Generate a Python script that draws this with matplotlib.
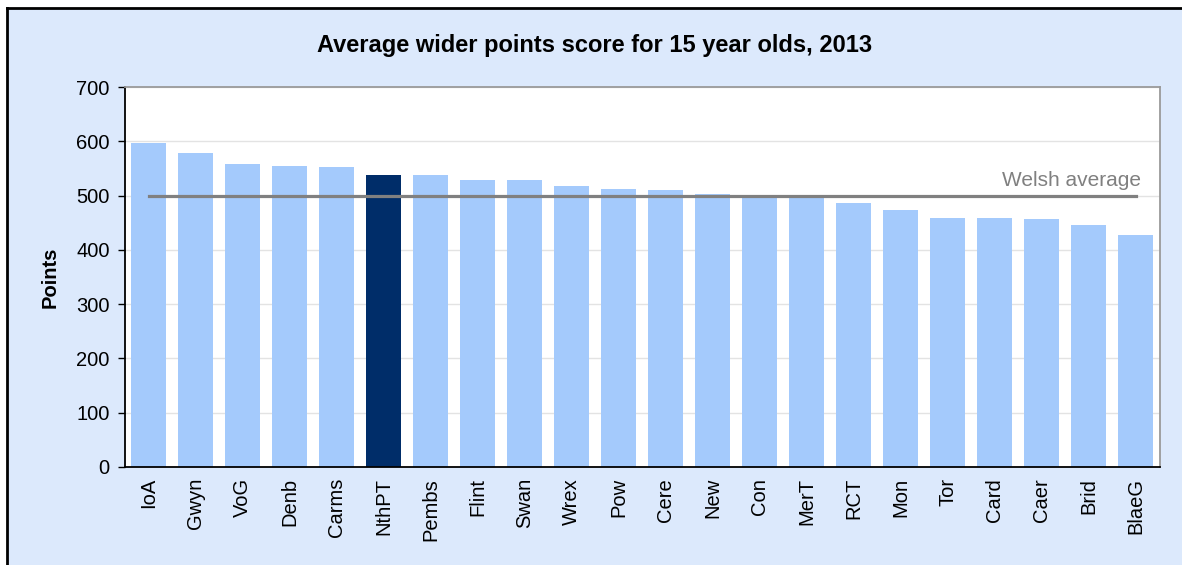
import numpy as np
import matplotlib.pyplot as plt
from matplotlib.lines import Line2D

areas = ["IoA", "Gwyn", "VoG", "Denb", "Carms", "NthPT", "Pembs", "Flint", "Swan", "Wrex",
         "Pow", "Cere", "New", "Con", "MerT", "RCT", "Mon", "Tor", "Card", "Caer", "Brid", "BlaeG"]
points = [596, 579, 558, 555, 552, 537, 537, 528, 528, 517,
          513, 510, 503, 501, 500, 487, 473, 459, 459, 456, 445, 427]
welsh_average = 500
highlight = "NthPT"

plt.rcParams["font.family"] = ["Liberation Sans", "DejaVu Sans"]

bg = "#dce9fc"
fig = plt.figure(figsize=(11.82, 5.65), dpi=100, facecolor=bg)
ax = fig.add_axes([0.1058, 0.1735, 0.8756, 0.6725])
ax.set_facecolor("white")

x = np.arange(len(areas))
colors = ["#002d69" if a == highlight else "#a4cafc" for a in areas]
ax.bar(x, points, width=0.73, color=colors, zorder=2)

# Welsh average reference line across all areas
ax.plot([x[0], x[-1]], [welsh_average, welsh_average], color="#808080", lw=2.3, zorder=3)
ax.text(x[-1] + 0.12, welsh_average + 11, "Welsh average", color="#808080",
        fontsize=15, ha="right", va="bottom")

ax.set_xlim(-0.5, len(areas) - 0.48)
ax.set_ylim(0, 700)
ax.set_yticks(range(0, 701, 100))
ax.yaxis.grid(True, color="#e3e3e3", lw=1)
ax.set_axisbelow(True)
ax.set_xticks(x)
ax.set_xticklabels(areas, rotation=90, fontsize=14.5)
ax.tick_params(axis="x", length=0, pad=8)
ax.tick_params(axis="y", labelsize=14.5, length=5, width=1, direction="out", pad=6)

for side in ["left", "bottom"]:
    ax.spines[side].set_color("black")
    ax.spines[side].set_linewidth(1.3)
for side in ["top", "right"]:
    ax.spines[side].set_color("#9a9a9a")
    ax.spines[side].set_linewidth(1.3)

ax.set_ylabel("Points", fontsize=14.5, fontweight="bold", labelpad=12)
fig.text(0.503, 0.92, "Average wider points score for 15 year olds, 2013",
         fontsize=17, fontweight="bold", ha="center", va="center")

# outer frame on left and top
fig.add_artist(Line2D([7 / 1182, 7 / 1182], [0, 1 - 8 / 565], color="black", lw=2,
                      transform=fig.transFigure))
fig.add_artist(Line2D([7 / 1182, 1], [1 - 8 / 565, 1 - 8 / 565], color="black", lw=2,
                      transform=fig.transFigure))
fig.patches.append(plt.Rectangle((0, 1 - 8 / 565), 1, 8 / 565, color="white",
                                 transform=fig.transFigure, zorder=-1))
fig.patches.append(plt.Rectangle((0, 0), 7 / 1182, 1, color="white",
                                 transform=fig.transFigure, zorder=-1))

fig.savefig("out.png", dpi=100, facecolor=bg)
